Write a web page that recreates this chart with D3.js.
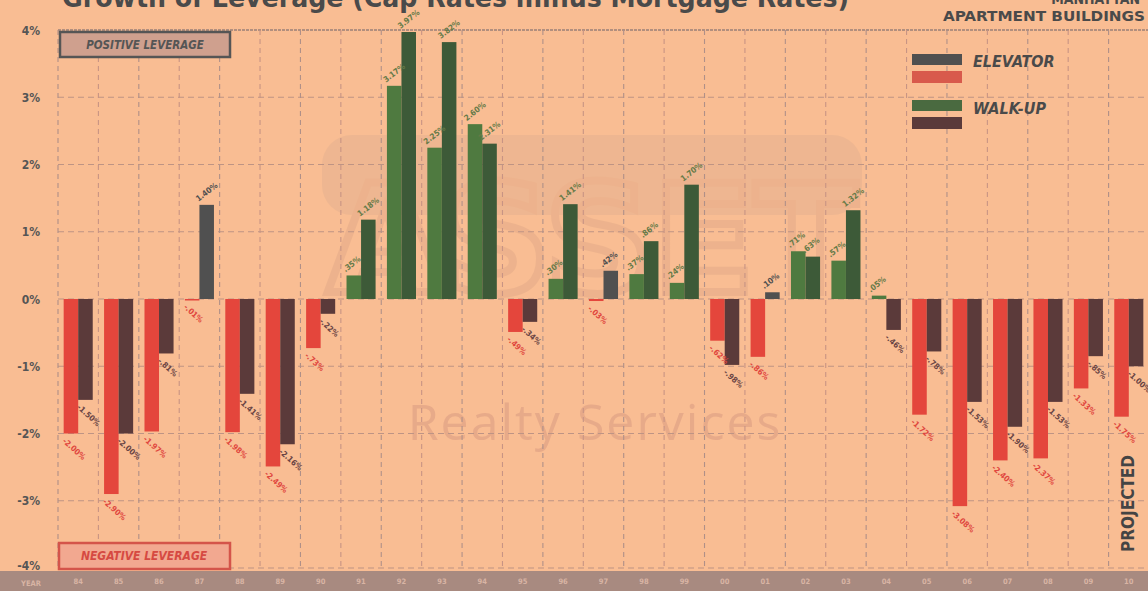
<!DOCTYPE html>
<html><head><meta charset="utf-8">
<script src="https://cdn.jsdelivr.net/npm/d3@7"></script>
<style>
html,body{margin:0;padding:0;background:#F9BD93;overflow:hidden;}
svg{display:block;}
</style></head>
<body>
<svg id="chart" width="1148" height="591"></svg>
<script>
// ---- data ----
const years = ["84","85","86","87","88","89","90","91","92","93","94","95","96","97","98","99","00","01","02","03","04","05","06","07","08","09","10"];
const elevator = [-2.00,-2.90,-1.97,-0.01,-1.98,-2.49,-0.73,0.35,3.17,2.25,2.60,-0.49,0.30,-0.03,0.37,0.24,-0.62,-0.86,0.71,0.57,0.05,-1.72,-3.08,-2.40,-2.37,-1.33,-1.75];
const walkup = [-1.50,-2.00,-0.81,1.40,-1.41,-2.16,-0.22,1.18,3.97,3.82,2.31,-0.34,1.41,0.42,0.86,1.70,-0.98,0.10,0.63,1.32,-0.46,-0.78,-1.53,-1.90,-1.53,-0.85,-1.00];
const yTicks = [-4,-3,-2,-1,0,1,2,3,4];
const seriesNames = ["ELEVATOR","WALK-UP"];

const svg = d3.select("#chart");
const W = 1148, H = 591;
const FONT = "'DejaVu Sans Condensed','DejaVu Sans',sans-serif";

const x = d3.scaleBand().domain(years).range([58, 1149]).padding(0);
const xs = d3.scaleBand().domain(["e","w"]).range([0, x.bandwidth()]).paddingInner(0).paddingOuter(0.39);
const y = d3.scaleLinear().domain([-4, 4]).range([568, 30]);

const C = {
  red: "#E4463C", maroon: "#5B3A3A", lgreen: "#4F7A40", dgreen: "#3D5A38", gray: "#505050",
  redTxt: "#E0463E", maroonTxt: "#6A4444", greenTxt: "#667A48", grayTxt: "#505050"
};

// watermark
const wm = svg.append("g").attr("opacity", 0.16);
wm.append("rect").attr("x", 322).attr("y", 135).attr("width", 540).attr("height", 80).attr("rx", 30)
  .attr("fill", "#B89888");
wm.append("text").attr("x", 592).attr("y", 292).attr("text-anchor", "middle")
  .attr("font-family", "'DejaVu Sans',sans-serif").attr("font-weight", "bold").attr("font-size", 150)
  .attr("fill", "none").attr("stroke", "#B08070").attr("stroke-width", 8).text("ASSET");
svg.append("text").attr("x", 595).attr("y", 440).attr("text-anchor", "middle")
  .attr("font-family", "'Open Sans','DejaVu Sans',sans-serif").attr("font-size", 50).attr("letter-spacing", 2)
  .attr("fill", "#E2A486").attr("opacity", 0.75).text("Realty Services");

// grid
const grid = svg.append("g");
grid.selectAll("line.h").data(yTicks).join("line")
  .attr("x1", 58).attr("x2", W).attr("y1", d => y(d)).attr("y2", d => y(d))
  .attr("stroke", (d) => d === 4 ? "#9A8078" : "#BE9484").attr("stroke-width", d => d === 4 ? 1.6 : 1.2)
  .attr("stroke-dasharray", d => d === 4 ? "3,1" : "6,4");
const vlines = years.map(d => x(d)).concat([x.range()[1]]);
grid.selectAll("line.v").data(vlines).join("line")
  .attr("x1", d => d).attr("x2", d => d).attr("y1", y(4)).attr("y2", y(-4))
  .attr("stroke", (d, i) => i % 2 ? "#C89484" : "#B09088").attr("stroke-width", 1.1)
  .attr("stroke-dasharray", "5,4");

// bars
const rows = years.map((yr, i) => ({ yr, e: elevator[i], w: walkup[i] }));
function colorOf(s, d) {
  if (s === "e") return d.e >= 0 ? C.lgreen : C.red;
  if (d.w < 0) return C.maroon;
  return d.e >= 0 ? C.dgreen : C.gray;
}
function txtColorOf(s, d) {
  const v = d[s];
  if (s === "e") return v >= 0 ? C.greenTxt : C.redTxt;
  if (v < 0) return C.maroonTxt;
  return d.e >= 0 ? C.greenTxt : C.grayTxt;
}
function fmt(v) {
  const a = Math.abs(v);
  const s = a >= 1 ? a.toFixed(2) : a.toFixed(2).slice(1);
  return (v < 0 ? "-" : "") + s + "%";
}
const flat = [];
rows.forEach(d => ["e", "w"].forEach(s => flat.push({ s, d, v: d[s] })));

svg.append("g").selectAll("rect").data(flat).join("rect")
  .attr("x", o => x(o.d.yr) + xs(o.s))
  .attr("width", xs.bandwidth())
  .attr("y", o => Math.min(y(o.v), y(0)))
  .attr("height", o => Math.max(1.5, Math.abs(y(o.v) - y(0))))
  .attr("fill", o => colorOf(o.s, o.d));

// value labels
svg.append("g").selectAll("text").data(flat).join("text")
  .attr("transform", o => {
    const bx = x(o.d.yr) + xs(o.s);
    if (o.v >= 0) return `translate(${bx - 1},${y(o.v) - 3}) rotate(-38)`;
    return `translate(${bx + 2},${y(o.v) + 4}) rotate(42)`;
  })
  .attr("dy", o => o.v >= 0 ? 0 : "0.7em")
  .attr("font-family", FONT).attr("font-weight", "bold").attr("font-size", 8)
  .attr("fill", o => txtColorOf(o.s, o.d))
  .text(o => fmt(o.v));

// y axis
const yAxis = d3.axisLeft(y).tickValues(yTicks).tickFormat(d => d + "%").tickSize(0).tickPadding(4);
const ya = svg.append("g").attr("transform", "translate(44,0)").call(yAxis);
ya.select(".domain").remove();
ya.selectAll("text").attr("font-family", FONT).attr("font-weight", "bold").attr("font-size", 12)
  .attr("fill", "#555").attr("dy", d => d === -4 ? "0.1em" : "0.35em");

// bottom strip with years
svg.append("rect").attr("x", 0).attr("y", 571).attr("width", W).attr("height", H - 571).attr("fill", "#A88A80");
svg.append("text").attr("x", 31).attr("y", 583).attr("dy", "0.35em").attr("text-anchor", "middle")
  .attr("font-family", FONT).attr("font-weight", "bold").attr("font-size", 7.5).attr("fill", "#D8B4A4").text("YEAR");
const xAxis = d3.axisBottom(x).tickSize(0).tickPadding(0);
const xa = svg.append("g").attr("transform", "translate(0,579)").call(xAxis);
xa.select(".domain").remove();
xa.selectAll("text").attr("font-family", FONT).attr("font-weight", "bold").attr("font-size", 7.5).attr("fill", "#D8B4A4");

// leverage boxes
svg.append("rect").attr("x", 60).attr("y", 32).attr("width", 170).attr("height", 25)
  .attr("fill", "#CFA08E").attr("stroke", "#555").attr("stroke-width", 2.5);
svg.append("text").attr("x", 145).attr("y", 45).attr("dy", "0.35em").attr("text-anchor", "middle")
  .attr("font-family", FONT).attr("font-weight", "bold").attr("font-style", "italic").attr("font-size", 11.5)
  .attr("fill", "#555").text("POSITIVE LEVERAGE");
svg.append("rect").attr("x", 59).attr("y", 543).attr("width", 171).attr("height", 26)
  .attr("fill", "#F2A890").attr("stroke", "#D4544A").attr("stroke-width", 2.5);
svg.append("text").attr("x", 144).attr("y", 556).attr("dy", "0.35em").attr("text-anchor", "middle")
  .attr("font-family", FONT).attr("font-weight", "bold").attr("font-style", "italic").attr("font-size", 12)
  .attr("fill", "#D64A42").text("NEGATIVE LEVERAGE");

// legend
const lg = svg.append("g");
const legendRows = [
  { name: seriesNames[0], c1: C.gray, c2: "#D85A4C", ty: 67, sy: 54 },
  { name: seriesNames[1], c1: "#4A6A40", c2: C.maroon, ty: 114, sy: 100 }
];
legendRows.forEach(r => {
  lg.append("rect").attr("x", 912).attr("y", r.sy).attr("width", 50).attr("height", 11).attr("fill", r.c1);
  lg.append("rect").attr("x", 912).attr("y", r.sy + 17).attr("width", 50).attr("height", 12).attr("fill", r.c2);
  lg.append("text").attr("x", 973).attr("y", r.ty).attr("font-family", FONT).attr("font-weight", "bold")
    .attr("font-style", "italic").attr("font-size", 16).attr("fill", "#4A4A4A").text(r.name);
});

// titles
svg.append("text").attr("x", 62).attr("y", 7).attr("textLength", 787).attr("lengthAdjust", "spacingAndGlyphs")
  .attr("font-family", FONT).attr("font-weight", "bold").attr("font-size", 27).attr("fill", "#4A4A4A")
  .text("Growth of Leverage (Cap Rates minus Mortgage Rates)");
svg.append("text").attr("x", 1140).attr("y", 4).attr("text-anchor", "end")
  .attr("font-family", FONT).attr("font-weight", "bold").attr("font-size", 14).attr("fill", "#4A4A4A").text("MANHATTAN");
svg.append("text").attr("x", 1145).attr("y", 21).attr("text-anchor", "end").attr("textLength", 202)
  .attr("lengthAdjust", "spacingAndGlyphs")
  .attr("font-family", FONT).attr("font-weight", "bold").attr("font-size", 14).attr("fill", "#4A4A4A").text("APARTMENT BUILDINGS");

// projected
svg.append("text").attr("transform", "translate(1134,552) rotate(-90)").attr("textLength", 97)
  .attr("lengthAdjust", "spacingAndGlyphs")
  .attr("font-family", FONT).attr("font-weight", "bold").attr("font-size", 17).attr("fill", "#444").text("PROJECTED");
</script>
</body></html>
